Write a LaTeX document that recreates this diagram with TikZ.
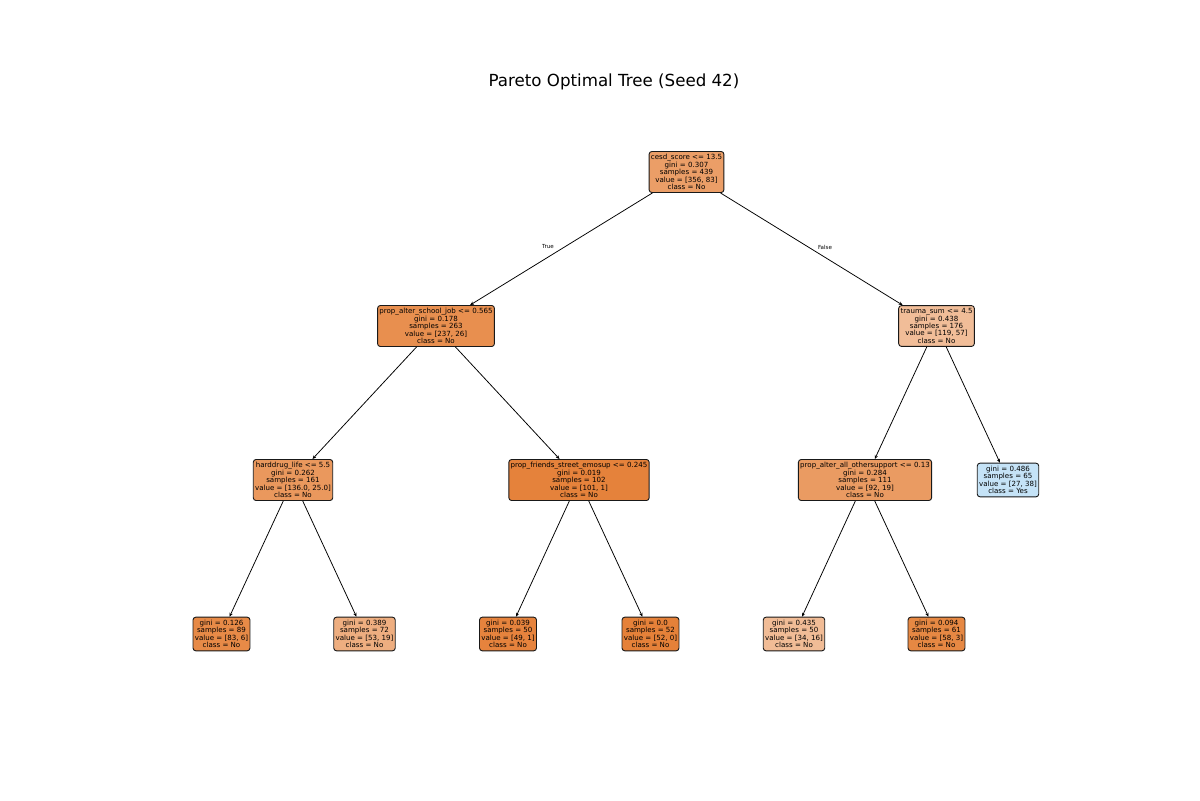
\documentclass[tikz,border=0pt]{standalone}
\usepackage{fontspec}
\setmainfont{DejaVu Sans}
\usetikzlibrary{arrows.meta}
\definecolor{c0}{RGB}{235,158,103}
\definecolor{c1}{RGB}{232,143,79}
\definecolor{c2}{RGB}{241,189,152}
\definecolor{c3}{RGB}{234,152,93}
\definecolor{c4}{RGB}{229,130,59}
\definecolor{c5}{RGB}{234,155,98}
\definecolor{c6}{RGB}{197,227,247}
\definecolor{c7}{RGB}{231,138,71}
\definecolor{c8}{RGB}{238,174,128}
\definecolor{c9}{RGB}{230,131,61}
\definecolor{c10}{RGB}{229,129,57}
\definecolor{c11}{RGB}{241,188,150}
\definecolor{c12}{RGB}{230,136,67}
\tikzset{treenode/.style={draw=black!90, line width=0.65pt, rounded corners=2pt,
align=center, inner xsep=1.3pt, inner ysep=2.2pt, font=\fontsize{5.1}{5.3}\selectfont},
treeedge/.style={-{Stealth[length=2.8pt,width=2.4pt]}, line width=0.55pt},
edgelabel/.style={font=\fontsize{4}{4.6}\selectfont}}

\begin{document}
\begin{tikzpicture}[x=0.72pt, y=-0.72pt]
	\useasboundingbox (0,0) rectangle (1200,800);
	\node (title) at (614,82) {\fontsize{12}{14}\selectfont Pareto Optimal Tree (Seed 42)};
	% split nodes
	\node[treenode, fill=c0] (cesd) at (686.5,172) {cesd\_score <= 13.5\\gini = 0.307\\samples = 439\\value = [356, 83]\\class = No};
	\node[treenode, fill=c1] (school) at (436,326) {prop\_alter\_school\_job <= 0.565\\gini = 0.178\\samples = 263\\value = [237, 26]\\class = No};
	\node[treenode, fill=c2] (trauma) at (936.5,326) {trauma\_sum <= 4.5\\gini = 0.438\\samples = 176\\value = [119, 57]\\class = No};
	\node[treenode, fill=c3] (drug) at (293,480) {harddrug\_life <= 5.5\\gini = 0.262\\samples = 161\\value = [136.0, 25.0]\\class = No};
	\node[treenode, fill=c4] (friends) at (579,480) {prop\_friends\_street\_emosup <= 0.245\\gini = 0.019\\samples = 102\\value = [101, 1]\\class = No};
	\node[treenode, fill=c5] (other) at (865,480) {prop\_alter\_all\_othersupport <= 0.13\\gini = 0.284\\samples = 111\\value = [92, 19]\\class = No};
	% leaves
	\node[treenode, fill=c6] (yes) at (1008,480) {gini = 0.486\\samples = 65\\value = [27, 38]\\class = Yes};
	\node[treenode, fill=c7] (l1) at (221.5,634) {gini = 0.126\\samples = 89\\value = [83, 6]\\class = No};
	\node[treenode, fill=c8] (l2) at (364.5,634) {gini = 0.389\\samples = 72\\value = [53, 19]\\class = No};
	\node[treenode, fill=c9] (l3) at (508,634) {gini = 0.039\\samples = 50\\value = [49, 1]\\class = No};
	\node[treenode, fill=c10] (l4) at (650.5,634) {gini = 0.0\\samples = 52\\value = [52, 0]\\class = No};
	\node[treenode, fill=c11] (l5) at (794,634) {gini = 0.435\\samples = 50\\value = [34, 16]\\class = No};
	\node[treenode, fill=c12] (l6) at (936.5,634) {gini = 0.094\\samples = 61\\value = [58, 3]\\class = No};
	% edges
	\draw[treeedge] (cesd) -- (school);
	\draw[treeedge] (cesd) -- (trauma);
	\draw[treeedge] (school) -- (drug);
	\draw[treeedge] (school) -- (friends);
	\draw[treeedge] (trauma) -- (other);
	\draw[treeedge] (trauma) -- (yes);
	\draw[treeedge] (drug) -- (l1);
	\draw[treeedge] (drug) -- (l2);
	\draw[treeedge] (friends) -- (l3);
	\draw[treeedge] (friends) -- (l4);
	\draw[treeedge] (other) -- (l5);
	\draw[treeedge] (other) -- (l6);
	\node[edgelabel] (true) at (548,247) {True};
	\node[edgelabel] (false) at (825,247) {False};
\end{tikzpicture}
\end{document}
